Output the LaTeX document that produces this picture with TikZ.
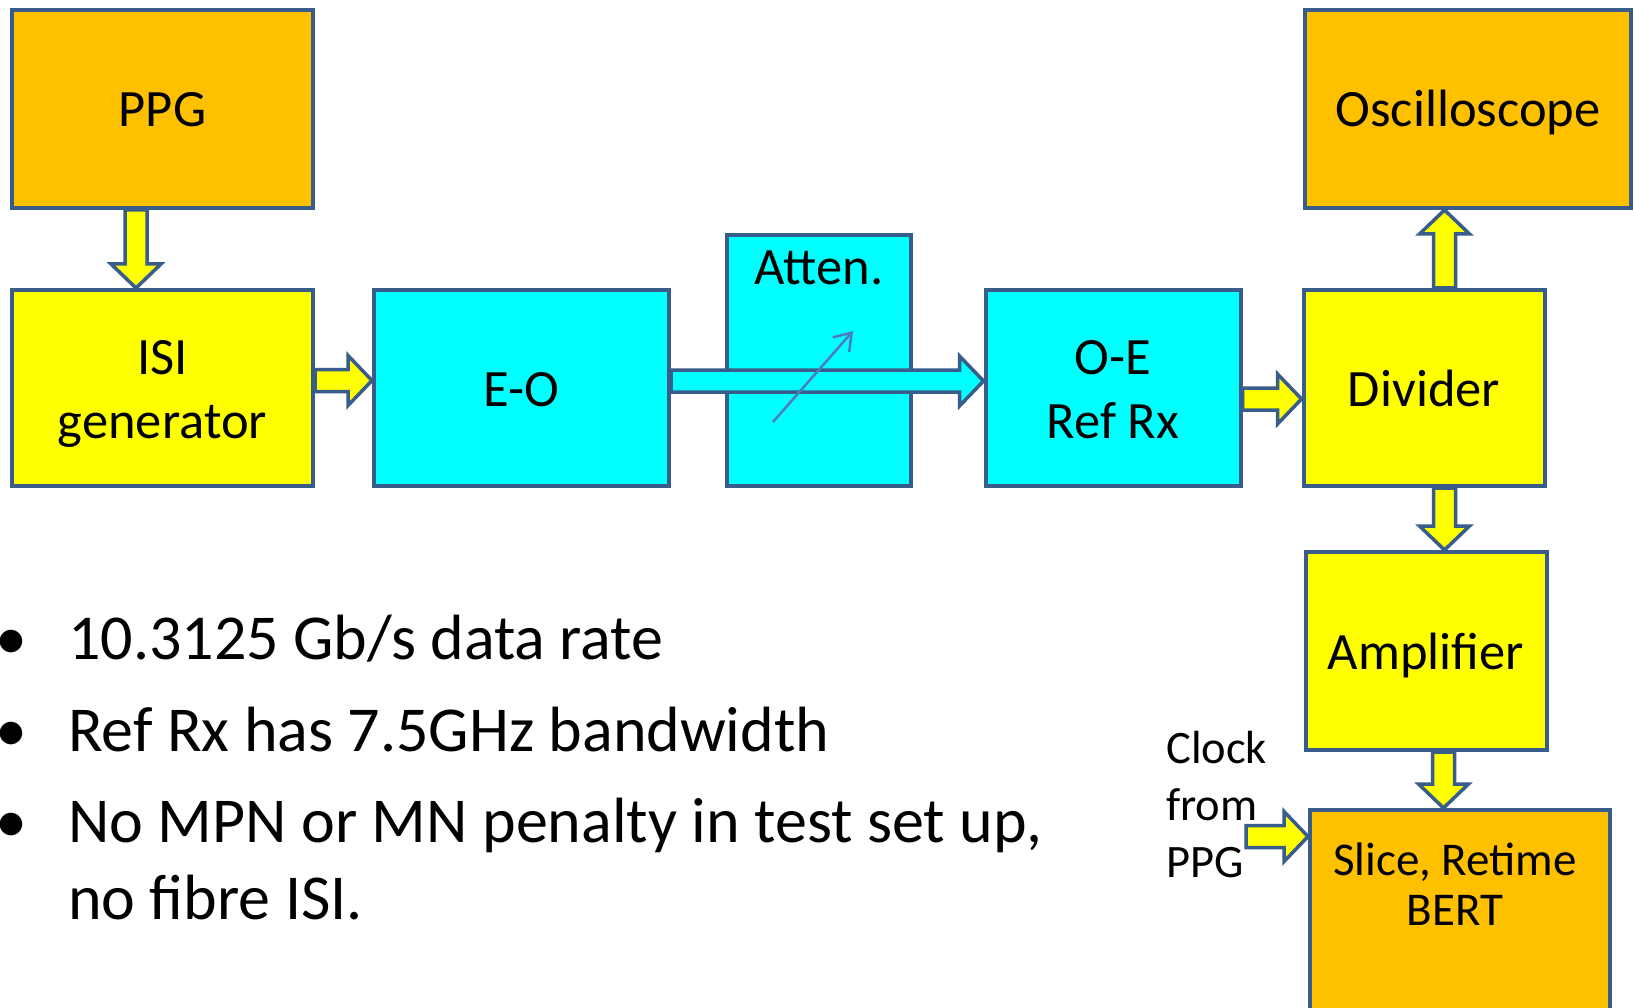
\documentclass[tikz,border=0pt]{standalone}
\usepackage{fontspec}
\setmainfont{Carlito}
\usepackage{tikz}
\usetikzlibrary{positioning, calc, arrows.meta}

\definecolor{edgeblue}{RGB}{56,93,138}
\definecolor{knobblue}{RGB}{74,126,187}
\definecolor{instorange}{RGB}{255,192,0}
\definecolor{sigyellow}{RGB}{255,255,0}
\definecolor{optcyan}{RGB}{0,255,255}

% block arrow with outline, from #2 to #3
\newcommand{\fatarrow}[3][sigyellow]{%
  \coordinate (fa-s) at (#2);
  \coordinate (fa-e) at (#3);
  \coordinate (fa-c) at ($(fa-e)!24pt!(fa-s)$);
  \draw[fatline, fill=#1] ($(fa-s)!11pt!90:(fa-e)$) -- ($(fa-c)!11pt!90:(fa-e)$)
    -- ($(fa-c)!25pt!90:(fa-e)$) -- (fa-e) -- ($(fa-c)!25pt!-90:(fa-e)$)
    -- ($(fa-c)!11pt!-90:(fa-e)$) -- ($(fa-s)!11pt!-90:(fa-e)$) -- cycle;%
}

\begin{document}
\begin{tikzpicture}[
  x=1pt, y=-1pt,
  blk/.style={draw=edgeblue, line width=4pt, inner sep=0pt, align=center,
    text height=50pt, text depth=14pt, font=\fontsize{52.5}{64}\selectfont},
  twoline/.style={text height=114pt},
  elec/.style={blk, fill=sigyellow},
  inst/.style={blk, fill=instorange},
  opt/.style={blk, fill=optcyan},
  boxlbl/.style={inner sep=0pt, align=center, anchor=base},
  fatline/.style={draw=edgeblue, line width=3.5pt, line join=miter},
  knob/.style={draw=knobblue, line width=2.5pt, -{Straight Barb[length=16pt, width=22pt]}},
  bul/.style={inner sep=0pt, anchor=base, font=\fontsize{64}{77}\selectfont},
  note/.style={inner sep=0pt, anchor=base west, align=left, font=\fontsize{64}{77}\selectfont},
  clk/.style={inner sep=0pt, anchor=base west, align=left, font=\fontsize{46.5}{57}\selectfont}
]
  \useasboundingbox (0,0) rectangle (1635,1008);
  \fill[white] (0,0) rectangle (1635,1008);

  %---------------- TOP ROW ----------------%
  \node[inst, minimum width=301pt, minimum height=198pt] (ppg) at (162.5,109) {PPG};
  \node[elec, twoline, minimum width=301pt, minimum height=196pt] (isi) at (162.5,388) {ISI\\generator};
  \node[opt, minimum width=295pt, minimum height=196pt] (eo) at (521.5,388) {E-O};
  \node[opt, minimum width=184pt, minimum height=250pt] (atten) at (819,360.5) {};
  \node[boxlbl, font=\fontsize{52.5}{64}\selectfont] (attenlbl) at (819,284) {Atten.};
  \node[opt, twoline, minimum width=255pt, minimum height=196pt] (oe) at (1113,388) {O-E\\Ref Rx};
  \node[elec, minimum width=241pt, minimum height=196pt] (div) at (1424,388) {Divider};
  \node[inst, minimum width=326pt, minimum height=198pt] (osc) at (1468,109) {Oscilloscope};

  %---------------- RIGHT COLUMN ----------------%
  \node[elec, minimum width=241pt, minimum height=198pt] (amp) at (1426,651) {Amplifier};
  \node[inst, minimum width=300pt, minimum height=230pt] (bert) at (1460,925) {};
  \node[boxlbl, font=\fontsize{47}{50}\selectfont] (bertlbl) at (1455,925) {Slice, Retime\\BERT};
  \node[clk] (clklbl) at (1166,877) {Clock\\from\\PPG};

  %---------------- ARROWS ----------------%
  \coordinate (div-up) at ([xshift=20.5pt]div.north);
  \coordinate (div-dn) at ([xshift=20.5pt]div.south);
  \coordinate (amp-dn) at ([xshift=17.5pt]amp.south);
  \coordinate (clk-in) at (1246,836.5);

  \fatarrow{[xshift=-26.5pt]ppg.south}{[xshift=-26.5pt]isi.north}
  \fatarrow{[yshift=7.5pt]isi.east}{[yshift=7.5pt]eo.west}
  \fatarrow[optcyan]{[yshift=7pt]eo.east}{[yshift=7pt]oe.west}
  \fatarrow{[yshift=-11pt]oe.east}{[yshift=-11pt]div.west}
  \fatarrow{div-up}{div-up |- osc.south}
  \fatarrow{div-dn}{div-dn |- amp.north}
  \fatarrow{amp-dn}{amp-dn |- bert.north}
  \fatarrow{clk-in}{clk-in -| bert.west}

  \draw[knob] ([shift={(-46pt,-61.5pt)}]atten.center) -- ([shift={(34pt,29.5pt)}]atten.center);

  %---------------- NOTES ----------------%
  \node[bul] (dot1) at (11,659) {\textbullet};
  \node[note] (item1) at (68,659) {10.3125 Gb/s data rate};
  \node[bul] (dot2) at (11,751) {\textbullet};
  \node[note] (item2) at (68,751) {Ref Rx has 7.5GHz bandwidth};
  \node[bul] (dot3) at (11,842.5) {\textbullet};
  \node[note] (item3) at (68,919.5) {No MPN or MN penalty in test set up,\\no fibre ISI.};

\end{tikzpicture}
\end{document}
